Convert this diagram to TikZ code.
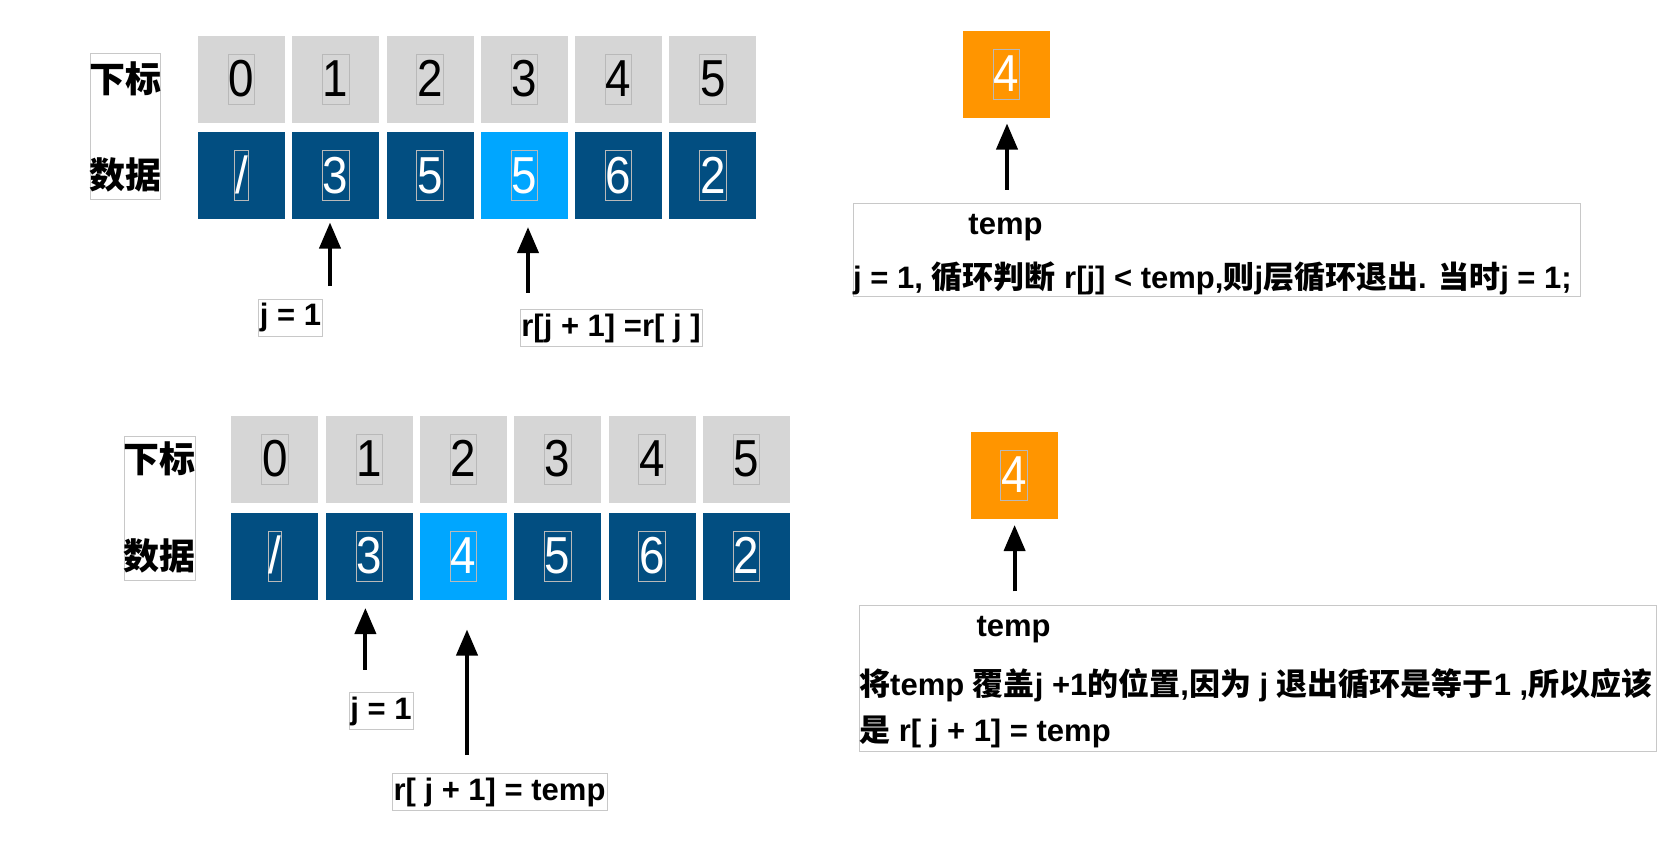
\documentclass[tikz,border=0pt]{standalone}
\usepackage{fontspec}
\setmainfont{Liberation Sans}
\newfontfamily\digits{Liberation Sans}[FakeStretch=0.88]
\newfontfamily\cjk{Noto Sans CJK SC}
\usetikzlibrary{arrows.meta}
\definecolor{idxgray}{RGB}{214,214,214}
\definecolor{darkblue}{RGB}{2,78,129}
\definecolor{lightblue}{RGB}{0,166,255}
\definecolor{tmporange}{RGB}{255,149,0}
\definecolor{edge}{RGB}{200,200,200}
\newcommand\zh[1]{{\cjk #1}}

\begin{document}
\begin{tikzpicture}[x=1pt,y=-1pt,
  cell/.style={minimum size=87pt,inner sep=0pt,outer sep=0pt},
  idxcell/.style={cell,fill=idxgray},
  datcell/.style={cell,fill=darkblue},
  curcell/.style={cell,fill=lightblue},
  tmpcell/.style={cell,fill=tmporange},
  numbox/.style={draw=gray!55,line width=0.7pt,inner xsep=0.5pt,inner ysep=0.5pt,
    text height=42pt,text depth=7pt,font=\digits\fontsize{52}{52}\selectfont},
  keytext/.style={inner sep=0pt,font=\cjk\bfseries\fontsize{36}{36}\selectfont},
  labelbox/.style={draw=edge,line width=0.8pt,inner xsep=1.5pt,inner ysep=4pt,font=\bfseries\fontsize{31}{32}\selectfont},
  notebox/.style={draw=edge,line width=0.8pt,inner sep=0pt},
  noteline/.style={anchor=west,inner sep=0pt,font=\bfseries\fontsize{31}{32}\selectfont},
  arr/.style={-{Triangle[width=21pt,length=26pt]},line width=4pt}]
  \useasboundingbox (0,0) rectangle (1680,854);

  % upper state
  \node[notebox,minimum width=70pt,minimum height=146pt] (keya) at (125.7,126.3) {};
  \node[keytext] (xba) at (125.7,78.5) {下标};
  \node[keytext] (sja) at (125.7,175.3) {数据};
  \foreach \v [count=\i from 0] in {/,3,5,5,6,2} {
    \node[idxcell] (ia\i) at (241.4+\i*94.3,79) {};
    \node[numbox] (na\i) at (ia\i) {\i};
    \ifnum\i=3 \def\st{curcell}\else\def\st{datcell}\fi
    \node[\st] (da\i) at (241.4+\i*94.3,175.6) {};
    \node[numbox,text=white] (va\i) at (da\i) {\v};
  }
  \node[labelbox] (ja) at (290.5,317.5) {j = 1};
  \node[labelbox] (ra) at (611,328) {r[j + 1] =r[ j ]};
  \coordinate (pa) at (330,286);
  \coordinate (qa) at (528,292.5);
  \draw[arr,shorten >=3.4pt] (pa) -- (pa |- da1.south);
  \draw[arr,shorten >=8pt] (qa) -- (qa |- da3.south);

  \node[tmpcell] (ta) at (1006.4,74) {};
  \node[numbox,text=white] (tva) at (ta) {4};
  \node[notebox,minimum width=727pt,minimum height=93pt] (ca) at (1216.5,250.2) {};
  \node[noteline,anchor=center] (tna) at (1005.5,228) {temp};
  \node[noteline] (la) at (853,278.5) {j = 1, \zh{循环判断} r[j] < temp,\zh{则}j\zh{层循环退出}. \zh{当时}j = 1;};
  \coordinate (sa) at (1007,189.6);
  \draw[arr,shorten >=6pt] (sa) -- (sa |- ta.south);

  % lower state
  \node[notebox,minimum width=71pt,minimum height=144pt] (keyb) at (159.5,508) {};
  \node[keytext] (xbb) at (159.5,459) {下标};
  \node[keytext] (sjb) at (159.5,556) {数据};
  \foreach \v [count=\i from 0] in {/,3,4,5,6,2} {
    \node[idxcell] (ib\i) at (274.8+\i*94.3,459) {};
    \node[numbox] (nb\i) at (ib\i) {\i};
    \ifnum\i=2 \def\st{curcell}\else\def\st{datcell}\fi
    \node[\st] (db\i) at (274.8+\i*94.3,556) {};
    \node[numbox,text=white] (vb\i) at (db\i) {\v};
  }
  \node[labelbox] (jb) at (381,711) {j = 1};
  \node[labelbox] (rb) at (499.5,792) {r[ j + 1] = temp};
  \coordinate (pb) at (365.4,669.6);
  \coordinate (qb) at (467,755);
  \draw[arr,shorten >=8.5pt] (pb) -- (pb |- db1.south);
  \draw[arr,shorten >=30pt] (qb) -- (qb |- db2.south);

  \node[tmpcell] (tb) at (1014,475) {};
  \node[numbox,text=white] (tvb) at (tb) {4};
  \node[notebox,minimum width=797pt,minimum height=146pt] (cb) at (1257.5,678) {};
  \node[noteline,anchor=center] (tnb) at (1013.6,629.7) {temp};
  \node[noteline] (lb) at (859,685.6) {\zh{将}temp \zh{覆盖}j +1\zh{的位置},\zh{因为} j \zh{退出循环是等于}1 ,\zh{所以应该}};
  \node[noteline] (lc) at (859,731.7) {\zh{是} r[ j + 1] = temp};
  \coordinate (sb) at (1014.6,591.4);
  \draw[arr,shorten >=6.5pt] (sb) -- (sb |- tb.south);
\end{tikzpicture}
\end{document}
